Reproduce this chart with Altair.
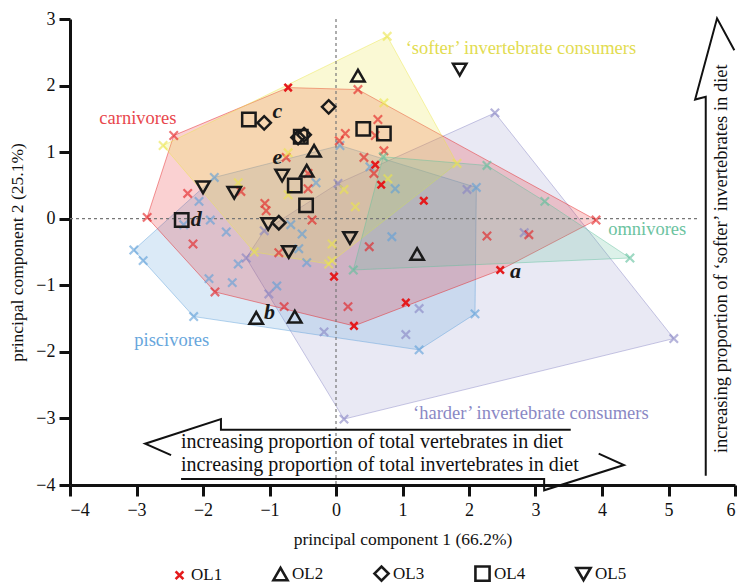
import altair as alt
import pandas as pd

FONT = "Liberation Serif"
XPATH = "M-1,-1L1,1M-1,1L1,-1"
XPATH_OL = "M-0.55,-0.55L0.55,0.55M-0.55,0.55L0.55,-0.55"

# ---- reference species scores on PC1 / PC2, by diet group ----
carn_x = [-2.44, 0.33, 0.63, 0.14, 0.05, 0.59, 0.72, 0.42, 0.57, -0.75, -0.42, -0.42, -1.43,
          -2.23, -1.07, -1.05, -0.36, -2.84, -2.15, -0.86, 0.50, 2.27, 2.90, 3.91, -1.82,
          -0.78, 0.18]
carn_y = [1.25, 1.94, 1.49, 1.28, 1.17, 1.25, 1.02, 0.92, 0.68, 0.92, 0.68, 0.45, 0.41,
          0.38, 0.23, 0.12, -0.02, 0.02, -0.38, -0.51, -0.42, -0.26, -0.24, -0.02, -1.10,
          -1.32, -1.32]

soft_x = [-2.60, 0.77, 0.72, -0.72, -1.47, -0.72, 0.12, 0.29, 0.78, 1.82, -0.06, -0.11, -0.06, -1.23]
soft_y = [1.10, 2.74, 1.74, 0.99, 0.54, 0.36, 0.44, 0.18, 0.60, 0.83, -0.38, -0.68, -0.63, -0.50]

omni_x = [0.71, 2.27, 3.14, 4.42, 0.26]
omni_y = [0.93, 0.80, 0.26, -0.59, -0.77]

hard_x = [2.39, 0.03, -1.08, -1.35, -1.01, -0.18, 0.12, 1.05, 1.25, 1.97, 2.83, 5.08]
hard_y = [1.59, 0.53, -0.18, -0.59, -1.13, -1.70, -3.01, -1.74, -1.35, 0.44, -0.21, -1.80]

pisc_x = [-3.04, -2.90, -2.14, -1.91, -1.56, -1.47, -0.89, -0.44, -0.56, -0.51, -0.68, -1.65,
          -1.89, -2.29, -2.06, -1.83, -0.30, 0.06, 0.51, 0.89, 2.11, 2.09, 1.25, 0.84]
pisc_y = [-0.47, -0.63, -1.47, -0.90, -0.96, -0.68, -1.01, -0.66, -0.45, -0.23, -0.09, -0.20,
          -0.02, -0.09, 0.26, 0.62, 0.54, 1.10, 0.78, 0.45, 0.47, -1.43, -1.97, -0.27]

# ---- fossil / archaeological samples OL1–OL5 ----
ol1_x = [-0.72, 0.59, 0.68, 1.32, 2.47, -0.03, 1.05, 0.27]
ol1_y = [1.97, 0.81, 0.51, 0.27, -0.77, -0.87, -1.26, -1.61]
ol2_x = [0.33, -0.33, -0.44, 1.22, -1.20, -0.62]
ol2_y = [2.15, 1.02, 0.72, -0.53, -1.49, -1.47]
ol3_x = [-0.11, -1.08, -0.57, -0.48, -0.86]
ol3_y = [1.68, 1.44, 1.22, 1.26, -0.06]
ol4_x = [-1.31, 0.41, 0.72, -0.53, -0.62, -0.45, -2.32]
ol4_y = [1.49, 1.35, 1.28, 1.23, 0.50, 0.20, -0.02]
ol5_x = [1.86, -2.00, -1.53, -0.81, -1.02, -0.71, 0.21]
ol5_y = [2.24, 0.47, 0.39, 0.65, -0.08, -0.50, -0.29]

OL_NAMES = ["OL1", "OL2", "OL3", "OL4", "OL5"]

# labelled specimens
letters = ["a", "b", "c", "d", "e"]
letter_x = [2.70, -1.00, -0.88, -2.10, -0.88]
letter_y = [-0.78, -1.40, 1.62, 0.00, 0.93]

# group names and their label anchors
group_names = ["carnivores", "‘softer’ invertebrate consumers", "omnivores",
               "piscivores", "‘harder’ invertebrate consumers"]
group_label_x = [-2.98, 2.78, 4.68, -2.47, 2.93]
group_label_y = [1.52, 2.57, -0.15, -1.82, -2.92]

# guide arrows (outline paths in PC units)
arrow_left_x = [3.53, -1.73, -1.73, -2.87, -2.48]
arrow_left_y = [-3.17, -3.17, -3.01, -3.38, -3.55]
arrow_right_x = [-2.33, 3.13, 3.13, 4.33, 3.95]
arrow_right_y = [-3.91, -3.91, -4.08, -3.70, -3.53]
arrow_up_x = [5.56, 5.56, 5.40, 5.73, 5.99]
arrow_up_y = [-3.86, 1.83, 1.79, 3.01, 2.53]

arrow_texts = ["increasing proportion of total vertebrates in diet",
               "increasing proportion of total invertebrates in diet"]
arrow_text_x = [-2.33, -2.33]
arrow_text_y = [-3.35, -3.70]
up_text = "increasing proportion of ‘softer’ invertebrates in diet"

RED = "#e41a1c"
COLORS = {
    "carn": ("#e41a1c", "#e8474c", 0.20),
    "soft": ("#ece64a", "#e2dc50", 0.24),
    "omni": ("#5fc09c", "#6cc39f", 0.22),
    "pisc": ("#5d9fd9", "#67a6dc", 0.22),
    "hard": ("#8683c4", "#8a88c4", 0.18),
}

X = alt.X("x:Q", scale=alt.Scale(domain=[-4, 6], nice=False, zero=False),
          axis=alt.Axis(values=list(range(-4, 7)), title="principal component 1 (66.2%)",
                        labelFont=FONT, labelFontSize=18, labelPadding=5, titlePadding=11))
Y = alt.Y("y:Q", scale=alt.Scale(domain=[-4, 3], nice=False, zero=False),
          axis=alt.Axis(values=list(range(-4, 4)), title="principal component 2 (25.1%)",
                        labelFont=FONT, labelFontSize=18, labelPadding=4, titlePadding=9))


def convex_hull(xs, ys):
    pts = sorted(set(zip(xs, ys)))

    def cross(o, a, b):
        return (a[0] - o[0]) * (b[1] - o[1]) - (a[1] - o[1]) * (b[0] - o[0])

    lower, upper = [], []
    for p in pts:
        while len(lower) >= 2 and cross(lower[-2], lower[-1], p) <= 0:
            lower.pop()
        lower.append(p)
    for p in reversed(pts):
        while len(upper) >= 2 and cross(upper[-2], upper[-1], p) <= 0:
            upper.pop()
        upper.append(p)
    ring = lower[:-1] + upper[:-1]
    return ring + [ring[0]]


def hull_layer(xs, ys, key):
    ring = convex_hull(xs, ys)
    df = pd.DataFrame({"x": [p[0] for p in ring], "y": [p[1] for p in ring],
                       "order": list(range(len(ring)))})
    base, _, op = COLORS[key]
    return alt.Chart(df).mark_line(
        fill=base, fillOpacity=op, stroke=base, strokeOpacity=0.45, strokeWidth=1
    ).encode(x=X, y=Y, order="order:Q")


def cross_layer(xs, ys, key):
    df = pd.DataFrame({"x": xs, "y": ys})
    base = COLORS[key][0]
    return alt.Chart(df).mark_point(
        shape=XPATH, size=70, filled=False, stroke=base, strokeWidth=2.2, opacity=0.6
    ).encode(x=X, y=Y)


# carnivore polygon encloses the OL1 specimens as well
hulls = [
    hull_layer(hard_x, hard_y, "hard"),
    hull_layer(pisc_x, pisc_y, "pisc"),
    hull_layer(carn_x + ol1_x, carn_y + ol1_y, "carn"),
    hull_layer(soft_x, soft_y, "soft"),
    hull_layer(omni_x, omni_y, "omni"),
]
crosses = [
    cross_layer(hard_x, hard_y, "hard"),
    cross_layer(pisc_x, pisc_y, "pisc"),
    cross_layer(carn_x, carn_y, "carn"),
    cross_layer(soft_x, soft_y, "soft"),
    cross_layer(omni_x, omni_y, "omni"),
]

# dashed zero lines
zero_v = alt.Chart(pd.DataFrame({"x": [0.0], "y": [3.0], "y2": [-4.0]})).mark_rule(
    color="#777777", strokeDash=[3, 3], strokeWidth=1.2
).encode(x=X, y=Y, y2="y2:Q")
zero_h = alt.Chart(pd.DataFrame({"x": [-4.0], "x2": [5.45], "y": [0.0]})).mark_rule(
    color="#777777", strokeDash=[3, 3], strokeWidth=1.2
).encode(x=X, x2="x2:Q", y=Y)

# sample markers
ol_rows = []
for name, xs, ys in zip(OL_NAMES, [ol1_x, ol2_x, ol3_x, ol4_x, ol5_x],
                        [ol1_y, ol2_y, ol3_y, ol4_y, ol5_y]):
    for xv, yv in zip(xs, ys):
        ol_rows.append({"x": xv, "y": yv, "sample": name})
ol_df = pd.DataFrame(ol_rows)

legend = alt.Legend(title=None, orient="none", legendX=101, legendY=546,
                    direction="horizontal", columns=5, columnPadding=45,
                    symbolSize=200, symbolStrokeWidth=2.6, labelFont=FONT,
                    labelFontSize=17, labelColor="#111111", labelOffset=3)
samples = alt.Chart(ol_df).mark_point(
    filled=False, size=180, strokeWidth=2.5, opacity=1
).encode(
    x=X, y=Y,
    color=alt.Color("sample:N", scale=alt.Scale(domain=OL_NAMES,
                    range=[RED, "#1a1a1a", "#1a1a1a", "#1a1a1a", "#1a1a1a"]), legend=legend),
    shape=alt.Shape("sample:N", scale=alt.Scale(domain=OL_NAMES,
                    range=[XPATH_OL, "triangle-up", "diamond", "square", "triangle-down"]),
                    legend=legend),
)

letter_layer = alt.Chart(pd.DataFrame({"x": letter_x, "y": letter_y, "t": letters})).mark_text(
    font=FONT, fontSize=22, fontStyle="italic", fontWeight="bold", color="#1a1a1a",
    align="center", baseline="middle"
).encode(x=X, y=Y, text="t:N")

group_text_layers = []
for key, name, gx, gy in zip(["carn", "soft", "omni", "pisc", "hard"], group_names,
                             group_label_x, group_label_y):
    group_text_layers.append(
        alt.Chart(pd.DataFrame({"x": [gx], "y": [gy], "t": [name]})).mark_text(
            font=FONT, fontSize=18.5, color=COLORS[key][1], align="center", baseline="middle"
        ).encode(x=X, y=Y, text="t:N")
    )

arrow_rows = []
for aid, xs, ys in [("left", arrow_left_x, arrow_left_y),
                    ("right", arrow_right_x, arrow_right_y),
                    ("up", arrow_up_x, arrow_up_y)]:
    for i, (xv, yv) in enumerate(zip(xs, ys)):
        arrow_rows.append({"x": xv, "y": yv, "id": aid, "order": i})
arrows = alt.Chart(pd.DataFrame(arrow_rows)).mark_line(
    color="#111111", strokeWidth=2, strokeJoin="miter"
).encode(x=X, y=Y, detail="id:N", order="order:Q")

arrow_text = alt.Chart(pd.DataFrame({"x": arrow_text_x, "y": arrow_text_y, "t": arrow_texts})).mark_text(
    font=FONT, fontSize=20, color="#111111", align="left", baseline="middle"
).encode(x=X, y=Y, text="t:N")

up_text_layer = alt.Chart(pd.DataFrame({"x": [5.79], "y": [-0.60], "t": [up_text]})).mark_text(
    font=FONT, fontSize=18.5, color="#111111", align="center", baseline="middle", angle=270
).encode(x=X, y=Y, text="t:N")

chart = alt.layer(
    *hulls, zero_v, zero_h, *crosses, samples, letter_layer, *group_text_layers,
    arrows, arrow_text, up_text_layer
).properties(
    width=665, height=466,
    autosize=alt.AutoSizeParams(type="none"),
    padding={"left": 70, "top": 19, "right": 3, "bottom": 102},
).configure_view(stroke=None).configure_axis(
    grid=False, domainColor="#111111", domainWidth=3, tickColor="#111111", tickWidth=3,
    tickSize=11, labelFont=FONT, labelFontSize=18, labelColor="#111111",
    titleFont=FONT, titleFontSize=17.5, titleFontWeight="normal", titleColor="#111111",
)

chart.save("out.html", embed_options={"renderer": "svg", "actions": False})
